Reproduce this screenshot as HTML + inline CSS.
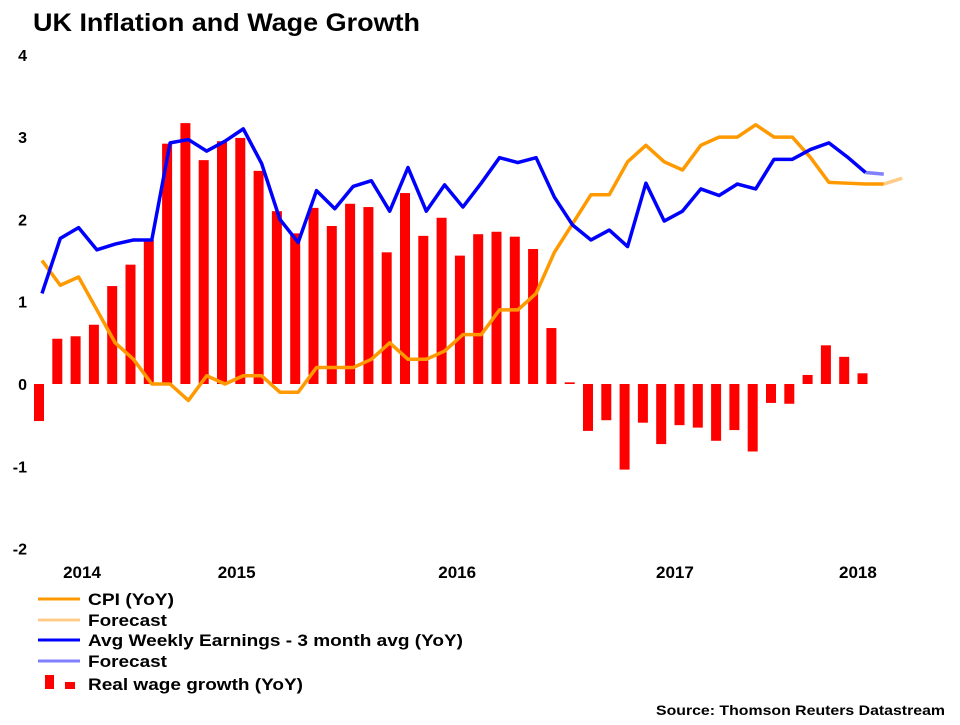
<!DOCTYPE html>
<html><head><meta charset="utf-8"><style>
body{margin:0;background:#fff;}
svg text{font-family:"Liberation Sans",sans-serif;font-weight:bold;fill:#000;}
</style></head><body>
<svg id="c" width="960" height="720" xmlns="http://www.w3.org/2000/svg">
<text x="33" y="31" font-size="25" textLength="387" lengthAdjust="spacingAndGlyphs">UK Inflation and Wage Growth</text>
<g id="yaxis"></g>
<g id="xaxis"></g>
<g id="bars"></g>
<g id="lines"></g>
<g>
<line x1="38" y1="599" x2="80" y2="599" stroke="#ff9900" stroke-width="3"/>
<text x="88" y="605" font-size="17" textLength="86" lengthAdjust="spacingAndGlyphs">CPI (YoY)</text>
<line x1="38" y1="620" x2="80" y2="620" stroke="#ffcc88" stroke-width="3"/>
<text x="88" y="626" font-size="17" textLength="79" lengthAdjust="spacingAndGlyphs">Forecast</text>
<line x1="38" y1="640" x2="80" y2="640" stroke="#0000ff" stroke-width="3"/>
<text x="88" y="646" font-size="17" textLength="375" lengthAdjust="spacingAndGlyphs">Avg Weekly Earnings - 3 month avg (YoY)</text>
<line x1="38" y1="661" x2="80" y2="661" stroke="#8080ff" stroke-width="3"/>
<text x="88" y="667" font-size="17" textLength="79" lengthAdjust="spacingAndGlyphs">Forecast</text>
<rect x="45" y="675" width="9" height="14" fill="#ff0000"/>
<rect x="65" y="682" width="10" height="7" fill="#ff0000"/>
<text x="88" y="690" font-size="17" textLength="215" lengthAdjust="spacingAndGlyphs">Real wage growth (YoY)</text>
</g>
<text x="945" y="715" font-size="14" text-anchor="end" textLength="289" lengthAdjust="spacingAndGlyphs">Source: Thomson Reuters Datastream</text>
</svg>
<script>
const yTicks=[-2,-1,0,1,2,3,4];
const yearLabels=["2014","2015","2016","2017","2018"];
const yearPos=[2.35,10.8,22.85,34.75,44.75];
const realWage=[-0.45,0.55,0.58,0.72,1.19,1.45,1.75,2.92,3.17,2.72,2.95,2.99,2.59,2.1,1.83,2.14,1.92,2.19,2.15,1.6,2.32,1.8,2.02,1.56,1.82,1.85,1.79,1.64,0.68,0.02,-0.57,-0.44,-1.04,-0.47,-0.73,-0.5,-0.53,-0.69,-0.56,-0.82,-0.23,-0.24,0.11,0.47,0.33,0.13];
const cpi=[1.5,1.2,1.3,0.9,0.5,0.3,0.0,0.0,-0.2,0.1,0.0,0.1,0.1,-0.1,-0.1,0.2,0.2,0.2,0.3,0.5,0.3,0.3,0.4,0.6,0.6,0.9,0.9,1.1,1.6,1.95,2.3,2.3,2.7,2.9,2.7,2.6,2.9,3.0,3.0,3.15,3.0,3.0,2.75,2.45,2.44,2.43,2.43];
const cpiForecast=[2.43,2.5];
const earnings=[1.1,1.77,1.9,1.63,1.7,1.75,1.75,2.93,2.97,2.83,2.95,3.1,2.68,2.0,1.72,2.35,2.13,2.4,2.47,2.1,2.63,2.1,2.42,2.15,2.44,2.75,2.69,2.75,2.27,1.93,1.75,1.87,1.67,2.44,1.98,2.1,2.37,2.29,2.43,2.37,2.73,2.73,2.85,2.93,2.76,2.57];
const earningsForecast=[2.57,2.55];
const NS="http://www.w3.org/2000/svg";
const y=v=>384-v*82.3;
const x=i=>39+i*18.3;
function mk(t,a,p){const e=document.createElementNS(NS,t);for(const k in a)e.setAttribute(k,a[k]);p.appendChild(e);return e;}
const ya=document.getElementById('yaxis');
yTicks.forEach(v=>{const t=mk('text',{x:27,y:y(v)+6,'font-size':16,'text-anchor':'end'},ya);t.textContent=v;

});
const xa=document.getElementById('xaxis');
yearLabels.forEach((l,k)=>{const t=mk('text',{x:x(yearPos[k]),y:578,'font-size':17,'text-anchor':'middle'},xa);t.textContent=l;

});
const bg=document.getElementById('bars');
realWage.forEach((v,i)=>{const r=mk('rect',{x:x(i)-5,y:Math.min(y(v),y(0)),width:10,height:Math.max(1,Math.abs(y(v)-y(0))),fill:'#ff0000'},bg);

});
const lg=document.getElementById('lines');
function line(arr,start,color,name){const pts=arr.map((v,i)=>(x(i+start)+3)+','+y(v)).join(' ');
const p=mk('polyline',{points:pts,fill:'none',stroke:color,'stroke-width':3.5,'stroke-linejoin':'round'},lg);

}
line(cpiForecast,cpi.length-1,'#ffcc88','cpi-forecast-line');
line(earningsForecast,earnings.length-1,'#8080ff','earnings-forecast-line');
line(cpi,0,'#ff9900','cpi-line');
line(earnings,0,'#0000ff','earnings-line');
</script>
</body></html>
